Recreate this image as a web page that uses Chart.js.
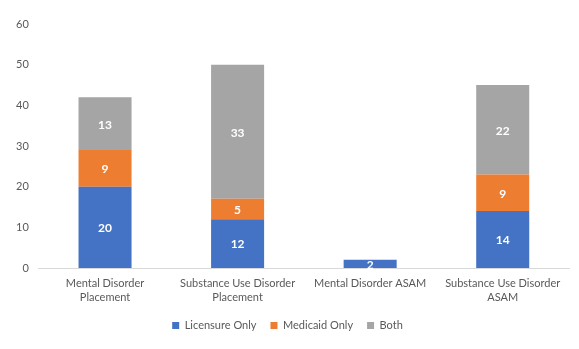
<!DOCTYPE html>
<html>
<head>
<meta charset="utf-8">
<script src="https://cdn.jsdelivr.net/npm/chart.js@4/dist/chart.umd.min.js"></script>
<style>
  html, body { margin: 0; padding: 0; background: #fff; }
  #wrap { width: 579px; height: 349px; }
</style>
</head>
<body>
<div id="wrap"><canvas id="chart" width="579" height="349"></canvas></div>
<script>
// Datos del gráfico
const categorias = [
    ['Mental Disorder', 'Placement'],
    ['Substance Use Disorder', 'Placement'],
    'Mental Disorder ASAM',
    ['Substance Use Disorder', 'ASAM']
];
const licensureOnly = [20, 12, 2, 14];
const medicaidOnly = [9, 5, 0, 9];
const both = [13, 33, 0, 22];
const yTicks = [0, 10, 20, 30, 40, 50, 60];

const fuente = 'Lato, "Open Sans", sans-serif';

// Etiquetas blancas dentro de cada segmento
const etiquetasPlugin = {
    id: 'etiquetas',
    afterDatasetsDraw(chart) {
        const ctx = chart.ctx;
        ctx.save();
        ctx.font = 'bold 12px ' + fuente;
        ctx.fillStyle = '#ffffff';
        ctx.textAlign = 'center';
        ctx.textBaseline = 'middle';
        chart.data.datasets.forEach((ds, i) => {
            const meta = chart.getDatasetMeta(i);
            meta.data.forEach((bar, j) => {
                const v = ds.data[j];
                if (!v) return;
                ctx.fillText(String(v), bar.x, (bar.y + bar.base) / 2 + 1);
            });
        });
        ctx.restore();
    }
};

new Chart(document.getElementById('chart'), {
    type: 'bar',
    data: {
        labels: categorias,
        datasets: [
            { label: 'Licensure Only', data: licensureOnly, backgroundColor: '#4472C4' },
            { label: 'Medicaid Only', data: medicaidOnly, backgroundColor: '#ED7D31' },
            { label: 'Both', data: both, backgroundColor: '#A5A5A5' }
        ]
    },
    options: {
        responsive: false,
        animation: false,
        devicePixelRatio: 1,
        layout: { padding: { left: 6, right: 10, top: 24, bottom: 8 } },
        datasets: { bar: { categoryPercentage: 0.4, barPercentage: 1 } },
        plugins: {
            legend: {
                position: 'bottom',
                labels: {
                    boxWidth: 7,
                    boxHeight: 7,
                    padding: 14,
                    color: '#595959',
                    font: { family: fuente, size: 11 }
                }
            },
            tooltip: { enabled: false }
        },
        scales: {
            x: {
                stacked: true,
                grid: { display: false, drawTicks: false },
                border: { color: '#D9D9D9' },
                afterFit: axis => { axis.height = 38; },
                ticks: { color: '#595959', font: { family: fuente, size: 11, lineHeight: 1.25 }, maxRotation: 0, padding: 9 }
            },
            y: {
                stacked: true,
                min: 0,
                max: 60,
                afterBuildTicks: axis => { axis.ticks = yTicks.map(v => ({ value: v })); },
                grid: { display: false, drawTicks: false },
                border: { display: false },
                ticks: { color: '#595959', font: { family: fuente, size: 11 }, padding: 10 }
            }
        }
    },
    plugins: [etiquetasPlugin]
});
</script>
</body>
</html>
